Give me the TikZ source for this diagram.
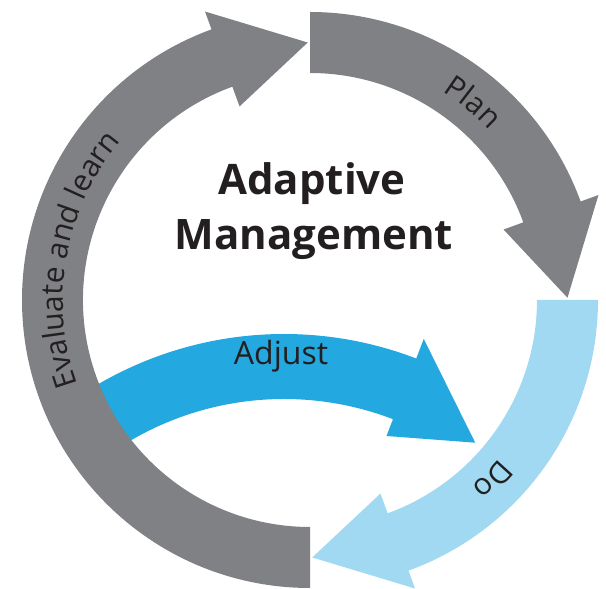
\documentclass[tikz,border=0pt]{standalone}
\usepackage{fontspec}
\setmainfont{Open Sans}
\newfontfamily\ringfont{Open Sans}
\usetikzlibrary{decorations.text}
\definecolor{ringgray}{RGB}{128,129,133}
\definecolor{ringblue}{RGB}{160,217,241}
\definecolor{adjblue}{RGB}{35,168,224}
\definecolor{txtdark}{RGB}{35,31,32}
\newcommand\ringarrow[4]{%
  \fill[#1] (#2:288) arc[start angle=#2, end angle=#3, radius=288]
    -- (#3:307) -- (#4:257.5) -- (#3:206) -- (#3:227)
    arc[start angle=#3, end angle=#2, radius=227] -- cycle;}
\tikzset{
  ringlabel/.style={decorate, decoration={text along path, text align=center,
     text={|\ringfont\fontsize{30}{31}\selectfont\color{txtdark}|#1}}},
  titletext/.style={font=\fontsize{42}{55}\selectfont\bfseries, text=txtdark, inner sep=0pt},
  adjtext/.style={font=\fontsize{32}{36}\selectfont, text=txtdark, inner sep=0pt}
}
\begin{document}
\begin{tikzpicture}[x=1pt,y=1pt]
\useasboundingbox (0,0) rectangle (606,589);
% Adjust arrow (under the ring)
\begin{scope}[shift={(284,-114)}]
  \fill[adjblue] (125:369) arc[start angle=125, end angle=69, radius=369]
    -- (69:390) -- (53.7:323) -- (69:286) -- (69:304)
    arc[start angle=69, end angle=125, radius=304] -- cycle;
\end{scope}
% ring arrows
\begin{scope}[shift={(310,289)}]
  \ringarrow{ringgray}{90}{20}{0.5}
  \ringarrow{ringblue}{0}{-70}{-89.5}
  \ringarrow{ringgray}{270}{110}{90.5}
  \path[ringlabel={Plan}] (76:247) arc[start angle=76, end angle=25, radius=247];
  \path[ringlabel={Do}] (-24:247) arc[start angle=-24, end angle=-65, radius=247];
  \path[ringlabel={Evaluate and learn}] (231:247) arc[start angle=231, end angle=109, radius=247];
\end{scope}
\node[titletext, anchor=base] (t1) at (312,394) {Adaptive};
\node[titletext, anchor=base] (t2) at (314,339) {Management};
\node[adjtext, anchor=base] (adj) at (281,224) {Adjust};
\end{tikzpicture}
\end{document}
